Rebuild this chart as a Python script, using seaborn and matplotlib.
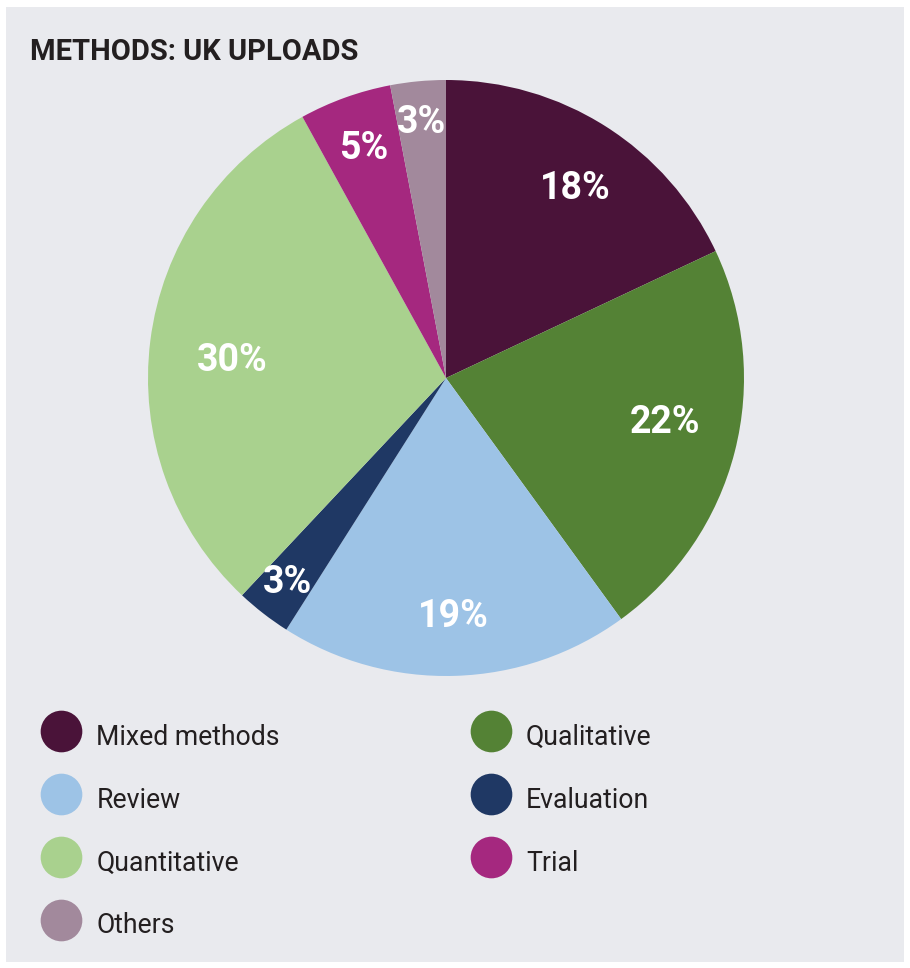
import numpy as np
import matplotlib
matplotlib.use("Agg")
import matplotlib.pyplot as plt
from matplotlib.patches import Rectangle
from matplotlib.lines import Line2D
import seaborn as sns

# --- data ---
methods = ["Mixed methods", "Qualitative", "Review", "Evaluation",
           "Quantitative", "Trial", "Others"]
shares = [18, 22, 19, 3, 30, 5, 3]
slice_colors = ["#4a1339", "#548235", "#9dc3e6", "#1f3864",
                "#a9d18e", "#a5287f", "#a2899c"]

# legend reads row-wise in the picture, matplotlib fills column-wise
legend_order = ["Mixed methods", "Review", "Quantitative", "Others",
                "Qualitative", "Evaluation", "Trial"]

sns.set_theme(style="white")
plt.rcParams["font.family"] = ["Roboto", "DejaVu Sans"]

W, H = 910, 968
fig = plt.figure(figsize=(W / 100, H / 100), dpi=100)
fig.patch.set_facecolor("white")

# grey card behind everything
fig.add_artist(Rectangle((6 / W, 6 / H), (W - 12) / W, (H - 13) / H,
                         transform=fig.transFigure, facecolor="#e9eaee",
                         edgecolor="none", zorder=0))

fig.text(30 / W, 1 - 52 / H, "METHODS: UK UPLOADS", fontsize=21,
         fontweight="bold", color="#231f20", va="center", ha="left")

# --- pie ---
cx, cy, r = 446, 378, 298
ax = fig.add_axes([(cx - r) / W, (H - cy - r) / H, 2 * r / W, 2 * r / H])
palette = sns.color_palette(slice_colors)
wedges, _ = ax.pie(shares, colors=palette, startangle=90, counterclock=False,
                   wedgeprops=dict(linewidth=0))
ax.set_xlim(-1, 1)
ax.set_ylim(-1, 1)
ax.set_aspect("equal")
ax.axis("off")

# label radius and small angle nudge per slice
pct_r = [0.77, 0.75, 0.80, 0.87, 0.72, 0.82, 0.86]
pct_da = [-2, 3, 0, 0, 2.5, 0, 0]
for w, v, rr, da in zip(wedges, shares, pct_r, pct_da):
    th = np.deg2rad((w.theta1 + w.theta2) / 2 + da)
    ax.text(rr * np.cos(th), rr * np.sin(th), f"{v}%", color="white",
            fontsize=27, fontweight="bold", ha="center", va="center")

# --- legend ---
color_of = dict(zip(methods, slice_colors))
handles = [Line2D([], [], linestyle="none", marker="o", markersize=30,
                  markerfacecolor=color_of[m], markeredgewidth=0)
           for m in legend_order]
fig.legend(handles, legend_order, ncol=2, loc="upper left",
           bbox_to_anchor=(45 / W, 1 - 718 / H), frameon=False,
           fontsize=19.2, handlelength=1.2, handleheight=1.7,
           handletextpad=0.73, labelspacing=1.01, columnspacing=7.3,
           borderpad=0, borderaxespad=0, labelcolor="#231f20")

fig.savefig("out.png", dpi=100, facecolor=fig.get_facecolor())
